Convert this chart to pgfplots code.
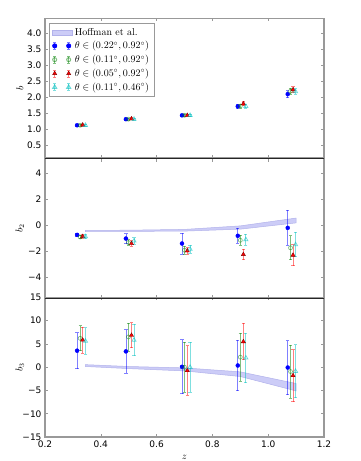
\documentclass[border=0pt]{standalone}
\usepackage{fontspec}
\usepackage{pgfplots}
\pgfplotsset{compat=1.18}
\usepackage{pgfplotstable}
\newfontfamily\djv{DejaVu Sans}

\definecolor{mblue}{rgb}{0,0,1}
\definecolor{mgreen}{rgb}{0,0.5,0}
\definecolor{mred}{rgb}{1,0,0}
\definecolor{mcyan}{rgb}{0,0.75,0.75}
\definecolor{framegray}{rgb}{0.6,0.6,0.6}
\definecolor{bandfill}{rgb}{0.8,0.8,0.97}
\definecolor{bandedge}{rgb}{0.7,0.7,0.92}

% panel 1 : b
\pgfplotstableread{
x y e
0.315 1.12 0.03
0.490 1.31 0.03
0.691 1.43 0.04
0.891 1.71 0.07
1.070 2.09 0.11
}\pAblue
\pgfplotstableread{
x y e
0.326 1.12 0.03
0.499 1.31 0.03
0.700 1.43 0.04
0.900 1.72 0.06
1.080 2.18 0.09
}\pAgreen
\pgfplotstableread{
x y e
0.335 1.13 0.03
0.510 1.32 0.03
0.710 1.43 0.04
0.911 1.79 0.06
1.089 2.23 0.09
}\pAred
\pgfplotstableread{
x y e
0.345 1.12 0.03
0.519 1.31 0.03
0.720 1.43 0.04
0.920 1.71 0.06
1.098 2.17 0.09
}\pAcyan
% panel 2 : b2
\pgfplotstableread{
x y e
0.315 -0.74 0.12
0.490 -1.02 0.38
0.691 -1.40 0.80
0.891 -0.81 0.56
1.070 -0.20 1.33
}\pBblue
\pgfplotstableread{
x y e
0.326 -0.90 0.12
0.499 -1.33 0.22
0.700 -1.91 0.30
0.900 -1.15 0.38
1.080 -1.73 0.92
}\pBgreen
\pgfplotstableread{
x y e
0.335 -0.86 0.12
0.510 -1.40 0.20
0.710 -1.96 0.25
0.911 -2.24 0.40
1.089 -2.29 0.80
}\pBred
\pgfplotstableread{
x y e
0.345 -0.87 0.15
0.519 -1.20 0.25
0.720 -1.83 0.30
0.920 -1.10 0.43
1.098 -1.48 0.93
}\pBcyan
% panel 3 : b3
\pgfplotstableread{
x y e
0.315 3.55 3.9
0.490 3.40 4.7
0.691 0.08 5.8
0.891 0.37 5.45
1.070 -0.07 5.8
}\pCblue
\pgfplotstableread{
x y e
0.326 6.21 2.7
0.499 6.50 3.0
0.700 0.00 5.4
0.900 2.16 5.2
1.080 -0.93 5.7
}\pCgreen
\pgfplotstableread{
x y e
0.335 5.84 2.8
0.510 6.86 2.7
0.710 -0.72 5.3
0.911 5.50 3.9
1.089 -1.80 5.6
}\pCred
\pgfplotstableread{
x y e
0.345 5.63 2.85
0.519 5.84 3.35
0.720 0.00 5.4
0.920 2.00 5.3
1.098 -0.86 5.7
}\pCcyan

\pgfplotsset{
  panel/.style={
    scale only axis, width=279pt, height=139.6pt,
    xmin=0.2, xmax=1.2,
    xtick={0.2,0.4,0.6,0.8,1.0,1.2},
    axis line style={framegray, line width=1.2pt},
    tick style={framegray, line width=0.6pt},
    major tick length=3pt, tick align=inside,
    tick label style={font=\djv\fontsize{9}{10}\selectfont},
    every axis y label/.style={at={(axis description cs:-0.09,0.5)}, rotate=90, anchor=center},
    every axis x label/.style={at={(axis description cs:0.5,-0.148)}, anchor=center},
  },
  ebar/.style={
    error bars/y dir=both, error bars/y explicit,
    error bars/error bar style={#1, opacity=0.5, line width=0.8pt},
    error bars/error mark options={rotate=90, mark size=1.6pt, #1, opacity=0.5, line width=0.8pt}},
  sblue/.style={only marks, mark=*, mark size=2pt, color=mblue, ebar=mblue},
  sgreen/.style={only marks, mark=o, mark size=2pt, color=mgreen, mark options={opacity=0.5, line width=0.7pt}, ebar=mgreen},
  sred/.style={only marks, mark=triangle*, mark size=2.4pt, color=mred, mark options={draw=red!50!black, fill=mred, line width=0.4pt}, ebar=mred},
  scyan/.style={only marks, mark=triangle, mark size=2.4pt, color=mcyan, mark options={opacity=0.6, line width=0.7pt}, ebar=mcyan},
  errleg/.style={legend image code/.code={
    \draw[#1, opacity=0.5, line width=0.8pt]
      (3pt,-3.5pt) -- (3pt,3.5pt) (1.5pt,-3.5pt) -- (4.5pt,-3.5pt) (1.5pt,3.5pt) -- (4.5pt,3.5pt)
      (17pt,-3.5pt) -- (17pt,3.5pt) (15.5pt,-3.5pt) -- (18.5pt,-3.5pt) (15.5pt,3.5pt) -- (18.5pt,3.5pt);
    \draw[##1] plot coordinates {(3pt,0pt) (17pt,0pt)};
  }},
  bandleg/.style={legend image code/.code={
    \fill[bandfill, draw=bandedge, line width=0.4pt] (1pt,-2.5pt) rectangle (21pt,2.5pt);
  }},
}

\begin{document}
\begin{tikzpicture}
\useasboundingbox (0,0) rectangle (360pt,461pt);

% ---------- panel 1
\begin{axis}[panel, name=p1, at={(45pt,303pt)}, anchor=south west,
  ymin=0.1, ymax=4.45,
  ytick={0.5,1,1.5,2,2.5,3,3.5,4},
  yticklabels={0.5,1.0,1.5,2.0,2.5,3.0,3.5,4.0},
  xticklabels={},
  ylabel={$b$},
  legend cell align=left,
  legend style={at={(axis description cs:0.0143,0.966)}, anchor=north west,
    draw=framegray, line width=1pt, font=\normalsize,
    nodes={inner ysep=2.4pt}},
]
\addlegendimage{bandleg}
\addlegendentry{Hoffman et al.}
\addlegendimage{errleg=mblue, only marks, mark=*, mark size=2pt, mblue}
\addlegendentry{$\theta\in(0.22^\circ,0.92^\circ)$}
\addlegendimage{errleg=mgreen, only marks, mark=o, mark size=2pt, mgreen, opacity=0.5}
\addlegendentry{$\theta\in(0.11^\circ,0.92^\circ)$}
\addlegendimage{errleg=mred, only marks, mark=triangle*, mark size=2.4pt, mred, mark options={draw=red!50!black,line width=0.4pt}}
\addlegendentry{$\theta\in(0.05^\circ,0.92^\circ)$}
\addlegendimage{errleg=mcyan, only marks, mark=triangle, mark size=2.4pt, mcyan, opacity=0.6}
\addlegendentry{$\theta\in(0.11^\circ,0.46^\circ)$}
\addplot[forget plot, sblue] table[x=x, y=y, y error=e] {\pAblue};
\addplot[forget plot, sgreen] table[x=x, y=y, y error=e] {\pAgreen};
\addplot[forget plot, sred] table[x=x, y=y, y error=e] {\pAred};
\addplot[forget plot, scyan] table[x=x, y=y, y error=e] {\pAcyan};
\end{axis}

% ---------- panel 2
\begin{axis}[panel, name=p2, at={(45pt,162.7pt)}, anchor=south west,
  ymin=-5.6, ymax=5.1,
  ytick={-4,-2,0,2,4},
  yticklabels={−4,−2,0,2,4},
  xticklabels={},
  ylabel={$b_2$},
]
\addplot[fill=bandfill, draw=bandedge, line width=0.5pt, forget plot]
  coordinates {(0.345,-0.40) (0.5,-0.38) (0.7,-0.32) (0.9,-0.05) (1.1,0.55)
               (1.1,0.18) (0.9,-0.30) (0.7,-0.45) (0.5,-0.47) (0.345,-0.48)} -- cycle;
\addplot[forget plot, sblue] table[x=x, y=y, y error=e] {\pBblue};
\addplot[forget plot, sgreen] table[x=x, y=y, y error=e] {\pBgreen};
\addplot[forget plot, sred] table[x=x, y=y, y error=e] {\pBred};
\addplot[forget plot, scyan] table[x=x, y=y, y error=e] {\pBcyan};
\end{axis}

% ---------- panel 3
\begin{axis}[panel, name=p3, at={(45pt,24pt)}, anchor=south west,
  ymin=-15, ymax=15,
  ytick={-15,-10,-5,0,5,10,15},
  yticklabels={−15,−10,−5,0,5,10,15},
  xticklabels={0.2,0.4,0.6,0.8,1.0,1.2},
  ylabel={$b_3$},
  xlabel={$z$},
]
\addplot[fill=bandfill, draw=bandedge, line width=0.5pt, forget plot]
  coordinates {(0.345,0.55) (0.5,0.15) (0.7,-0.15) (0.9,-1.0) (1.1,-3.5)
               (1.1,-5.1) (0.9,-2.0) (0.7,-0.8) (0.5,-0.3) (0.345,0.15)} -- cycle;
\addplot[forget plot, sblue] table[x=x, y=y, y error=e] {\pCblue};
\addplot[forget plot, sgreen] table[x=x, y=y, y error=e] {\pCgreen};
\addplot[forget plot, sred] table[x=x, y=y, y error=e] {\pCred};
\addplot[forget plot, scyan] table[x=x, y=y, y error=e] {\pCcyan};
\end{axis}

\draw[black!85, line width=0.8pt] (p1.south west) -- (p1.south east);
\draw[black!85, line width=0.8pt] (p2.south west) -- (p2.south east);
\end{tikzpicture}
\end{document}
